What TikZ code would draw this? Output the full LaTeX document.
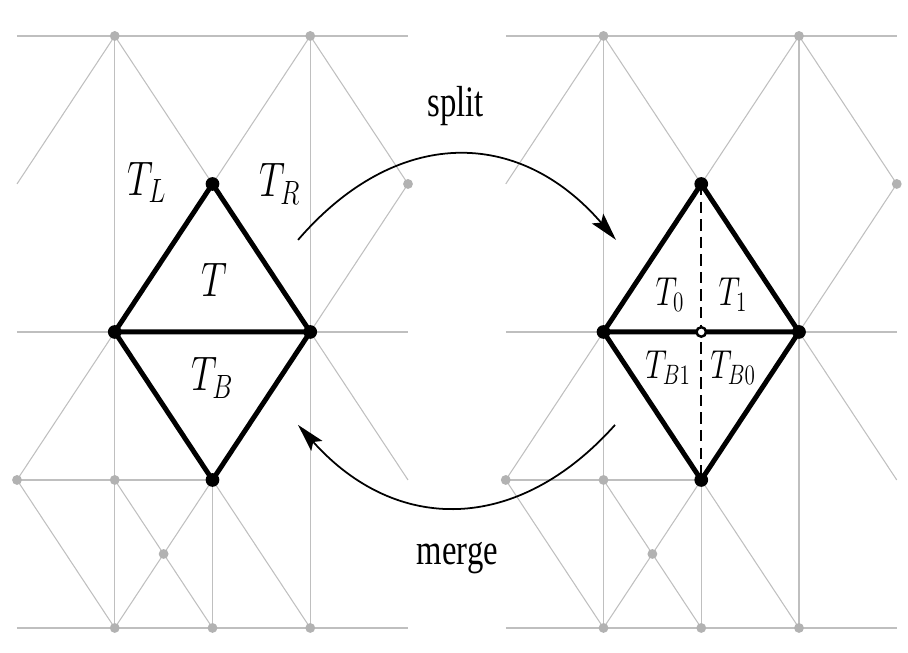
\documentclass[tikz,border=0pt]{standalone}
\usepackage{fontspec}
\setmainfont{Liberation Serif}
\usetikzlibrary{arrows.meta}
\begin{document}
\begin{tikzpicture}[>={Stealth[length=16pt, width=8.5pt, inset=3pt]}, x=1.955cm, y=2.96cm,
    gline/.style={draw=black!25, line width=0.6pt},
    hgline/.style={draw=black!25, line width=1.1pt},
    gdot/.style={fill=black!30},
    edge/.style={line width=2.8pt, line join=round},
    lbl/.style={font=\fontsize{21.5}{26}\selectfont, yscale=1.33},
    slbl/.style={font=\fontsize{17}{20}\selectfont, yscale=1.33},
    txt/.style={font=\fontsize{18.6}{22}\selectfont, yscale=1.33}]
    \useasboundingbox (-0.1739,-0.169) rectangle (9.115,4.243);

    % 两个网格
    \foreach \p/\o in {L/0, R/5} {
        \foreach \c in {0,...,4} \foreach \r in {0,...,4}
            \coordinate (\p-\c\r) at (\o+\c, \r);
        \coordinate (\p-x) at (\o+1.5, 0.5);
        % 灰色网格线
        \draw[hgline] (\p-04) -- (\p-44) (\p-02) -- (\p-42) (\p-01) -- (\p-21) (\p-00) -- (\p-40);
        \draw[gline] (\p-14) -- (\p-10) (\p-34) -- (\p-30) (\p-21) -- (\p-20);
        \draw[gline] (\p-03) -- (\p-14) -- (\p-23) -- (\p-34) -- (\p-43) -- (\p-32) -- (\p-41);
        \draw[gline] (\p-12) -- (\p-01) -- (\p-10) -- (\p-x) -- (\p-21) -- (\p-30);
        \draw[gline] (\p-11) -- (\p-x) -- (\p-20);
        % 菱形
        \draw[edge] (\p-23) -- (\p-12) -- (\p-21) -- (\p-32) -- cycle (\p-12) -- (\p-32);
        % 顶点
        \foreach \v in {14,34,43,01,11,x,10,20,30}
            \fill[gdot] (\p-\v) circle (2.8pt);
        \foreach \v in {23,12,32,21}
            \fill (\p-\v) circle (3.9pt);
    }

    % 分裂后的新边
    \draw[line width=1.4pt, dash pattern=on 6.5pt off 3.5pt] (R-23) -- (R-21);
    \filldraw[fill=white, line width=1.4pt] (R-22) circle (2.7pt);

    % 三角形标注
    \node[lbl] (TL) at (1.33, 3.01) {$T_L$};
    \node[lbl] (TR) at (2.69, 3.0) {$T_R$};
    \node[lbl] (T) at (2.015, 2.35) {$T$};
    \node[lbl] (TB) at (2.0, 1.69) {$T_B$};
    \node[slbl] (T0) at (6.68, 2.25) {$T_0$};
    \node[slbl] (T1) at (7.325, 2.25) {$T_1$};
    \node[slbl] (TB1) at (6.66, 1.76) {$T_{B1}$};
    \node[slbl] (TB0) at (7.325, 1.76) {$T_{B0}$};

    % 箭头
    \coordinate (s1) at (2.875, 2.622);
    \coordinate (s2) at (6.128, 2.622);
    \coordinate (m1) at (6.118, 1.372);
    \coordinate (m2) at (2.875, 1.372);
    \draw[->, line width=1pt] (s1) .. controls (3.875, 3.387) and (5.128, 3.387) .. (s2);
    \draw[->, line width=1pt] (m1) .. controls (5.118, 0.633) and (3.875, 0.633) .. (m2);
    \node[txt] (split) at (4.49, 3.527) {split};
    \node[txt] (merge) at (4.506, 0.473) {merge};

\end{tikzpicture}
\end{document}
